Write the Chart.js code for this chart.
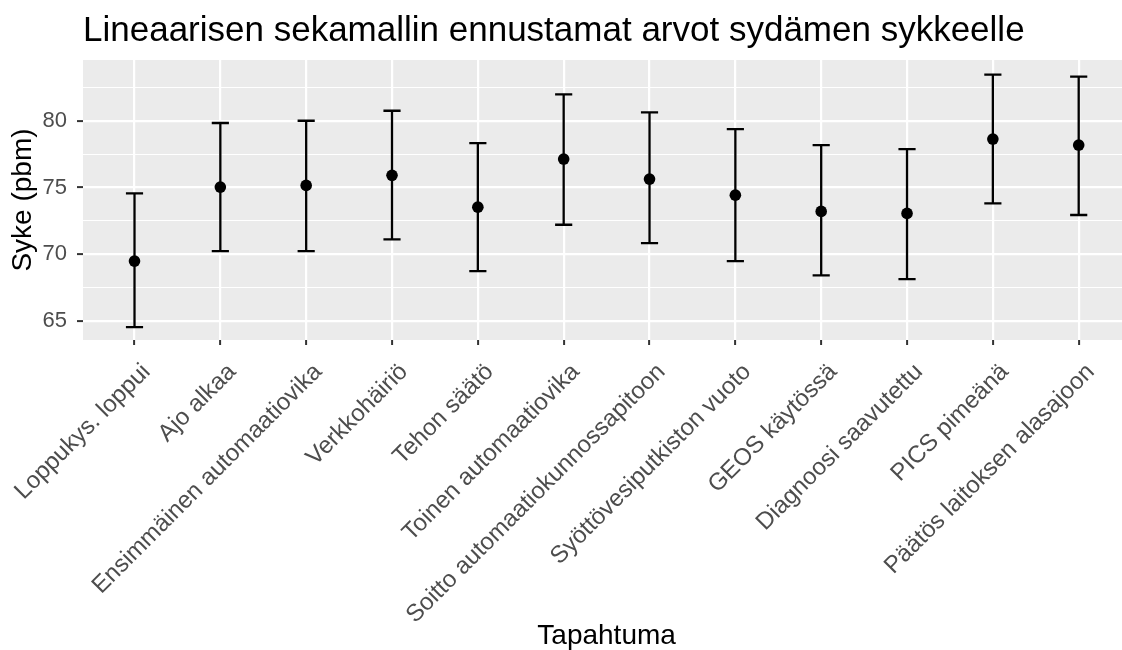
<!DOCTYPE html>
<html>
<head>
<meta charset="utf-8">
<script src="https://cdn.jsdelivr.net/npm/chart.js@4/dist/chart.umd.min.js"></script>
<style>
  html, body { margin: 0; padding: 0; background: #ffffff; width: 1122px; height: 650px; overflow: hidden; }
  #wrap { width: 1136px; height: 650px; }
</style>
</head>
<body>
<div id="wrap"><canvas id="c" width="1136" height="650"></canvas></div>
<script>
// Events (x categories)
const categories = [
  "Loppukys. loppui",
  "Ajo alkaa",
  "Ensimmäinen automaatiovika",
  "Verkkohäiriö",
  "Tehon säätö",
  "Toinen automaatiovika",
  "Soitto automaatiokunnossapitoon",
  "Syöttövesiputkiston vuoto",
  "GEOS käytössä",
  "Diagnoosi saavutettu",
  "PICS pimeänä",
  "Päätös laitoksen alasajoon"
];

// Predicted heart rate with interval bounds
const fitted = [69.49, 75.03, 75.16, 75.91, 73.53, 77.13, 75.63, 74.43, 73.21, 73.06, 78.63, 78.18];
const lower  = [64.55, 70.24, 70.24, 71.11, 68.74, 72.21, 70.84, 69.49, 68.42, 68.14, 73.81, 72.94];
const upper  = [74.56, 79.83, 80.00, 80.75, 78.33, 81.98, 80.62, 79.38, 78.18, 77.88, 83.45, 83.30];

// Labelled y ticks
const yTickLabels = [65, 70, 75, 80];

const FONT = "Liberation Sans, Arial, sans-serif";

// Grey panel behind the grid, plus error bars under the points
const panelAndBars = {
  id: 'panelAndBars',
  beforeDraw(chart) {
    const { ctx, chartArea: a } = chart;
    ctx.save();
    ctx.fillStyle = '#ebebeb';
    ctx.fillRect(a.left, a.top, a.right - a.left, a.bottom - a.top);
    ctx.restore();
  },
  beforeDatasetsDraw(chart) {
    const { ctx, scales: { x, y } } = chart;
    ctx.save();
    ctx.strokeStyle = '#000000';
    ctx.lineWidth = 2.3;
    ctx.lineCap = 'butt';
    for (let i = 0; i < categories.length; i++) {
      const cx = x.getPixelForValue(i);
      const xl = x.getPixelForValue(i - 0.1);
      const xr = x.getPixelForValue(i + 0.1);
      const yl = y.getPixelForValue(lower[i]);
      const yu = y.getPixelForValue(upper[i]);
      ctx.beginPath();
      ctx.moveTo(cx, yl); ctx.lineTo(cx, yu);
      ctx.moveTo(xl, yl); ctx.lineTo(xr, yl);
      ctx.moveTo(xl, yu); ctx.lineTo(xr, yu);
      ctx.stroke();
    }
    ctx.restore();
  }
};

const isMajor = v => yTickLabels.includes(v) || Math.abs(v % 5) < 1e-9;

new Chart(document.getElementById('c'), {
  type: 'scatter',
  data: {
    datasets: [{
      data: fitted.map((v, i) => ({ x: i, y: v })),
      pointRadius: 5.8,
      pointHoverRadius: 5.8,
      pointBackgroundColor: '#000000',
      pointBorderWidth: 0,
      showLine: false
    }]
  },
  options: {
    responsive: false,
    animation: false,
    devicePixelRatio: 1,
    layout: { padding: 0 },
    plugins: {
      legend: { display: false },
      tooltip: { enabled: false },
      title: {
        display: true,
        text: 'Lineaarisen sekamallin ennustamat arvot sydämen sykkeelle',
        align: 'start',
        fullSize: false,
        color: '#000000',
        font: { family: FONT, size: 35, weight: 'normal', lineHeight: 1.2 },
        padding: { top: 10, bottom: 8 }
      }
    },
    scales: {
      x: {
        type: 'linear',
        min: -0.6,
        max: 11.6,
        afterFit(s) { s.height = 310; s.paddingLeft = 0; s.paddingRight = 0; },
        border: { display: false },
        grid: {
          color: '#ffffff',
          lineWidth: 2.2,
          tickLength: 5,
          tickColor: '#333333',
          tickWidth: 2
        },
        ticks: {
          stepSize: 1,
          includeBounds: false,
          autoSkip: false,
          minRotation: 45,
          maxRotation: 45,
          padding: 13,
          labelOffset: 12,
          color: '#4d4d4d',
          font: { family: FONT, size: 24 },
          callback: v => (Number.isInteger(v) && categories[v] !== undefined) ? categories[v] : ''
        },
        title: {
          display: true,
          text: 'Tapahtuma',
          color: '#000000',
          font: { family: FONT, size: 28, lineHeight: 1 },
          padding: { top: 0, bottom: 0 }
        }
      },
      y: {
        type: 'linear',
        min: 63.58,
        max: 84.55,
        afterFit(s) { s.width = 83; },
        border: { display: false },
        grid: {
          color: '#ffffff',
          lineWidth: c => isMajor(c.tick.value) ? 2.2 : 1.1,
          tickLength: 6,
          tickColor: c => isMajor(c.tick.value) ? '#333333' : 'rgba(0,0,0,0)',
          tickWidth: 2
        },
        ticks: {
          stepSize: 2.5,
          includeBounds: false,
          autoSkip: false,
          padding: 10,
          color: '#4d4d4d',
          font: { family: FONT, size: 22 },
          callback: v => yTickLabels.includes(v) ? String(v) : ''
        },
        title: {
          display: true,
          text: 'Syke (pbm)',
          color: '#000000',
          font: { family: FONT, size: 28, lineHeight: 1.2 },
          padding: { top: 6.5, bottom: 0 }
        }
      }
    }
  },
  plugins: [panelAndBars]
});
</script>
</body>
</html>
